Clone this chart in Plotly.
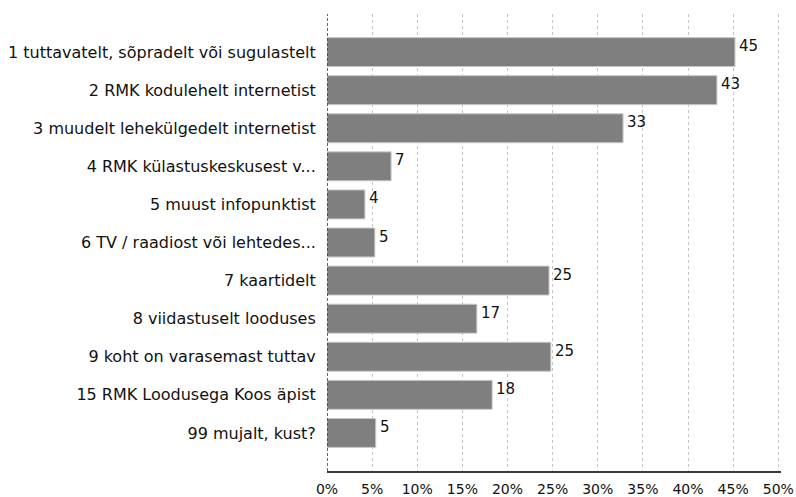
import plotly.graph_objects as go

categories = [
    "1 tuttavatelt, sõpradelt või sugulastelt",
    "2 RMK kodulehelt internetist",
    "3 muudelt lehekülgedelt internetist",
    "4 RMK külastuskeskusest v...",
    "5 muust infopunktist",
    "6 TV / raadiost või lehtedes...",
    "7 kaartidelt",
    "8 viidastuselt looduses",
    "9 koht on varasemast tuttav",
    "15 RMK Loodusega Koos äpist",
    "99 mujalt, kust?",
]
values = [45.2, 43.2, 32.8, 7.1, 4.2, 5.3, 24.6, 16.6, 24.8, 18.3, 5.4]
value_labels = ["45", "43", "33", "7", "4", "5", "25", "17", "25", "18", "5"]
x_ticks = [0, 5, 10, 15, 20, 25, 30, 35, 40, 45, 50]
x_tick_labels = [f"{t}%" for t in x_ticks]

positions = list(range(len(categories)))
font_family = "DejaVu Sans, sans-serif"

fig = go.Figure()
fig.add_trace(go.Bar(
    x=values,
    y=positions,
    orientation="h",
    marker=dict(color="#7f7f7f", line=dict(color="#c8c8c8", width=1)),
    width=0.76,
    hoverinfo="skip",
))

for v, p, lab in zip(values, positions, value_labels):
    fig.add_annotation(
        x=v, y=p, text=lab, showarrow=False,
        xanchor="left", yanchor="middle", xshift=2, yshift=6,
        font=dict(family=font_family, size=15, color="#111"),
    )

fig.add_shape(type="line", xref="x", yref="paper", x0=0, x1=0, y0=0, y1=1,
              line=dict(color="#333", width=1.5, dash="3px,2px"))

fig.update_layout(
    width=796, height=497,
    margin=dict(l=327, r=15, t=14, b=26),
    paper_bgcolor="white", plot_bgcolor="white",
    showlegend=False,
    font=dict(family=font_family, size=15, color="#111"),
    xaxis=dict(
        range=[0, 50.3],
        tickvals=x_ticks, ticktext=x_tick_labels,
        showgrid=True, gridcolor="#c4c4c4", griddash="3px,3px", gridwidth=1,
        zeroline=False, automargin=False,
        showline=True, linecolor="#3a3a3a", linewidth=2,
        ticks="outside", ticklen=4, tickcolor="rgba(0,0,0,0)",
        ticklabeloverflow="allow",
        tickfont=dict(size=14, family=font_family),
    ),
    yaxis=dict(
        range=[len(categories), -1],
        tickvals=positions, ticktext=categories,
        showgrid=False, zeroline=False, showline=False, automargin=False,
        ticks="outside", ticklen=7, tickcolor="rgba(0,0,0,0)",
        tickfont=dict(size=16, family=font_family),
    ),
)

fig.write_html(
    "out.html",
    config={"displayModeBar": False},
    post_script="document.body.style.margin='0';document.body.style.overflow='hidden';",
)
